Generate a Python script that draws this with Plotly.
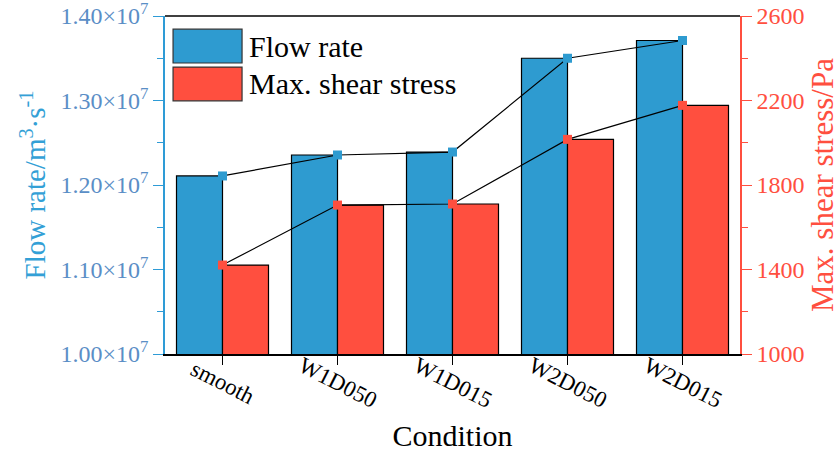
import plotly.graph_objects as go

# Conditions and measured results
conditions = ["smooth", "W1D050", "W1D015", "W2D050", "W2D015"]
flow_rate = [1.2107e7, 1.2355e7, 1.2390e7, 1.3500e7, 1.3710e7]      # m^3/s
max_shear = [1421, 1705, 1710, 2016, 2177]                          # Pa

left_ticks = [1.00e7, 1.10e7, 1.20e7, 1.30e7, 1.40e7]
left_tick_text = ["1.00×10<sup>7</sup>", "1.10×10<sup>7</sup>", "1.20×10<sup>7</sup>",
                  "1.30×10<sup>7</sup>", "1.40×10<sup>7</sup>"]
right_ticks = [1000, 1400, 1800, 2200, 2600]

BLUE = "#2E9BD0"
RED = "#FF4F3F"
AXIS_BLUE = "#2E9BD6"
TICK_BLUE = "#5A8EC6"
FONT = "Liberation Serif"

fig = go.Figure()

fig.add_trace(go.Bar(
    x=conditions, y=flow_rate, name="Flow rate",
    marker=dict(color=BLUE, line=dict(color="black", width=1.2)),
    width=0.4, offset=-0.4, yaxis="y", showlegend=False))
fig.add_trace(go.Bar(
    x=conditions, y=max_shear, name="Max. shear stress",
    marker=dict(color=RED, line=dict(color="black", width=1.2)),
    width=0.4, offset=0.0, yaxis="y2", showlegend=False))

# Connecting lines with square markers at each category centre
fig.add_trace(go.Scatter(
    x=conditions, y=flow_rate, mode="lines+markers", yaxis="y",
    line=dict(color="black", width=1.2),
    marker=dict(symbol="square", size=9, color=BLUE), showlegend=False))
fig.add_trace(go.Scatter(
    x=conditions, y=max_shear, mode="lines+markers", yaxis="y2",
    line=dict(color="black", width=1.2),
    marker=dict(symbol="square", size=9, color=RED), showlegend=False))

# Legend: swatches and labels inside the top-left of the plot area
legend_items = [("Flow rate", BLUE), ("Max. shear stress", RED)]
shapes = [
    # frame line along the top of the plot area
    dict(type="line", xref="paper", yref="paper", x0=0, x1=1, y0=1, y1=1,
         line=dict(color="black", width=1.5)),
]
annotations = []
for i, (label, col) in enumerate(legend_items):
    y_top = 0.961 - i * 0.112
    shapes.append(dict(type="rect", xref="paper", yref="paper",
                       x0=0.014, x1=0.134, y0=y_top - 0.100, y1=y_top,
                       fillcolor=col, line=dict(color="#333333", width=1.2)))
    annotations.append(dict(xref="paper", yref="paper", x=0.143, y=y_top - 0.050,
                            text=label, showarrow=False, xanchor="left", yanchor="middle",
                            font=dict(family=FONT, size=30, color="black")))

# Rotated category labels
for c in conditions:
    annotations.append(dict(x=c, xref="x", yref="paper", y=0, yshift=-28,
                            text=c, showarrow=False, textangle=27,
                            xanchor="center", yanchor="middle",
                            font=dict(family=FONT, size=23, color="black")))

fig.update_layout(
    width=840, height=452,
    margin=dict(l=165, r=100, t=16, b=98, autoexpand=False),
    paper_bgcolor="white", plot_bgcolor="white",
    barmode="overlay",
    font=dict(family=FONT, color="black"),
    shapes=shapes, annotations=annotations,
    xaxis=dict(
        type="category", range=[-0.5, 4.5], automargin=False,
        showline=True, linecolor="black", linewidth=1.5,
        ticks="outside", ticklen=9, tickcolor="black", tickwidth=1.2,
        showticklabels=False, showgrid=False,
        title=dict(text="Condition", font=dict(family=FONT, size=30, color="black"), standoff=62),
    ),
    yaxis=dict(
        range=[1.0e7, 1.4e7], tickvals=left_ticks, ticktext=left_tick_text,
        automargin=False, ticklabeloverflow="allow",
        showline=True, linecolor=AXIS_BLUE, linewidth=1.5,
        ticks="outside", ticklen=10, tickcolor=AXIS_BLUE, tickwidth=1.2,
        minor=dict(tickvals=[1.05e7, 1.15e7, 1.25e7, 1.35e7], ticks="outside",
                   ticklen=6, tickcolor=AXIS_BLUE, tickwidth=1.2, showgrid=False),
        tickfont=dict(family=FONT, size=24, color=TICK_BLUE),
        showgrid=False, zeroline=False,
        title=dict(text="Flow rate/m<sup>3</sup>·s<sup>-1</sup>",
                   font=dict(family=FONT, size=29, color="#33A0D6"), standoff=6),
    ),
    yaxis2=dict(
        overlaying="y", side="right", anchor="x", automargin=False,
        ticklabeloverflow="allow",
        range=[1000, 2600], tickvals=right_ticks,
        showline=True, linecolor=RED, linewidth=1.5,
        ticks="outside", ticklen=10, tickcolor=RED, tickwidth=1.2,
        minor=dict(tickvals=[1200, 1600, 2000, 2400], ticks="outside",
                   ticklen=6, tickcolor=RED, tickwidth=1.2, showgrid=False),
        tickfont=dict(family=FONT, size=24, color=RED),
        showgrid=False, zeroline=False,
        title=dict(text="Max. shear stress/Pa",
                   font=dict(family=FONT, size=31, color=RED), standoff=8),
    ),
)

fig.write_html("out.html")
